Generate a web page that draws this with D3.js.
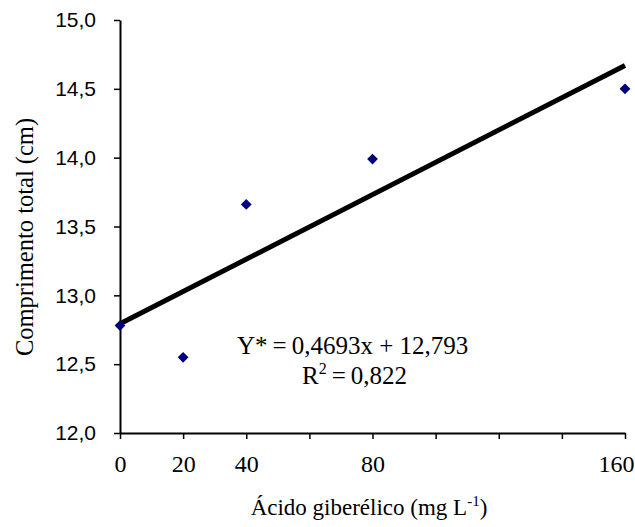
<!DOCTYPE html>
<html>
<head>
<meta charset="utf-8">
<script src="https://cdn.jsdelivr.net/npm/d3@7"></script>
<style>
  body { margin: 0; background: #fff; }
  svg { display: block; }
</style>
</head>
<body>
<svg id="chart" width="635" height="527"></svg>
<script>
// data
const doses = [0, 20, 40, 80, 160];
const lengths = [12.78, 12.55, 13.66, 13.99, 14.50];
const fitDoses = [0, 160];
const fitLengths = [12.793, 14.67];
const xTickValues = [0, 20, 40, 60, 80, 100, 120, 140, 160];
const xTickLabels = [0, 20, 40, 80, 160];
const yTickValues = [12.0, 12.5, 13.0, 13.5, 14.0, 14.5, 15.0];

const svg = d3.select("#chart");

const x = d3.scaleLinear().domain([0, 160]).range([120, 625]);
const y = d3.scaleLinear().domain([12, 15]).range([433, 20]);

const comma = v => d3.format(".1f")(v).replace(".", ",");

// axes
const xAxis = svg.append("g")
    .attr("transform", "translate(0," + y(12) + ")")
    .call(d3.axisBottom(x)
        .tickValues(xTickValues)
        .tickSize(6)
        .tickSizeOuter(0)
        .tickPadding(16)
        .tickFormat(d => xTickLabels.includes(d) ? d : ""));
xAxis.select(".domain").attr("stroke", "#000").attr("stroke-width", 2);
xAxis.selectAll(".tick line").attr("stroke-width", 1.5);
xAxis.selectAll("text")
    .attr("font-family", "Liberation Serif, Times New Roman, serif")
    .attr("font-size", 24)
    .attr("fill", "#000");
// last label is pulled in so it stays on the page
xAxis.selectAll(".tick text").filter(d => d === 160).attr("dx", -9);

const yAxis = svg.append("g")
    .attr("transform", "translate(" + x(0) + ",0)")
    .call(d3.axisLeft(y)
        .tickValues(yTickValues)
        .tickSize(6)
        .tickSizeOuter(0)
        .tickPadding(18)
        .tickFormat(comma));
yAxis.select(".domain").attr("stroke", "#000").attr("stroke-width", 2);
yAxis.selectAll(".tick line").attr("stroke-width", 1.5);
yAxis.selectAll("text")
    .attr("font-family", "Liberation Sans, Arial, sans-serif")
    .attr("font-size", 21)
    .attr("fill", "#000");

// regression line
svg.append("path")
    .datum(fitDoses.map((d, i) => [d, fitLengths[i]]))
    .attr("d", d3.line().x(d => x(d[0])).y(d => y(d[1])))
    .attr("fill", "none")
    .attr("stroke", "#000")
    .attr("stroke-width", 5);

// points
svg.selectAll(".pt")
    .data(doses.map((d, i) => [d, lengths[i]]))
    .enter().append("path")
    .attr("class", "pt")
    .attr("d", d3.symbol(d3.symbolSquare, 58))
    .attr("transform", d => "translate(" + x(d[0]) + "," + y(d[1]) + ") rotate(45)")
    .attr("fill", "#00007f");

// equation
const eq = svg.append("g")
    .attr("font-family", "Liberation Serif, Times New Roman, serif")
    .attr("font-size", 25)
    .attr("fill", "#000");
eq.append("text")
    .attr("x", 237).attr("y", 354)
    .text("Y*\u2009=\u20090,4693x + 12,793");
const r2 = eq.append("text").attr("x", 302).attr("y", 384);
r2.append("tspan").text("R");
r2.append("tspan").attr("dy", -10).attr("font-size", 16).text("2");
r2.append("tspan").attr("dy", 10).text("\u2009=\u20090,822");

// axis titles
svg.append("text")
    .attr("transform", "translate(33,237) rotate(-90)")
    .attr("text-anchor", "middle")
    .attr("font-family", "Liberation Serif, Times New Roman, serif")
    .attr("font-size", 24.5)
    .attr("fill", "#000")
    .text("Comprimento total (cm)");

const xt = svg.append("text")
    .attr("x", 369).attr("y", 515)
    .attr("text-anchor", "middle")
    .attr("font-family", "Liberation Serif, Times New Roman, serif")
    .attr("font-size", 23)
    .attr("fill", "#000");
xt.append("tspan").text("Ácido giberélico (mg L");
xt.append("tspan").attr("dy", -9).attr("font-size", 15).text("-1");
xt.append("tspan").attr("dy", 9).text(")");
</script>
</body>
</html>
